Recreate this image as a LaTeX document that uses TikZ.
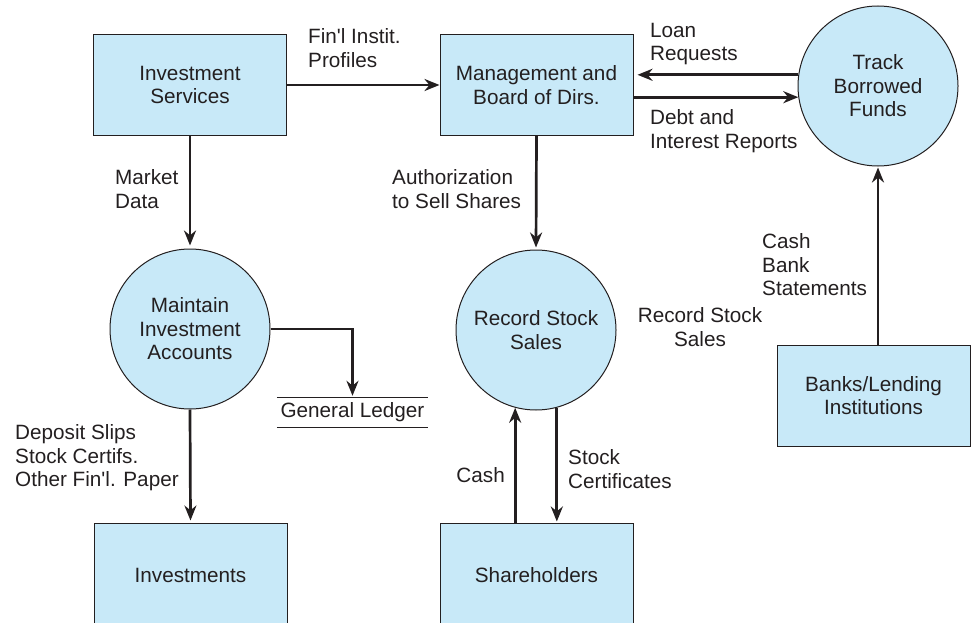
\documentclass[tikz,border=0pt]{standalone}
\usepackage{fontspec}
\setmainfont{Liberation Sans}
\usepackage{xcolor}
\usetikzlibrary{arrows.meta,positioning,calc}
\definecolor{dfdfill}{RGB}{200,233,248}
\definecolor{dfdink}{RGB}{35,31,32}
\tikzset{
  entity/.style={draw=dfdink, line width=1pt, fill=dfdfill, minimum width=193pt, minimum height=101pt, align=center, inner sep=0pt},
  process/.style={circle, draw=dfdink, line width=1pt, fill=dfdfill, minimum size=160pt, align=center, inner sep=0pt},
  flow/.style={draw=dfdink, line width=2.7pt, ->},
  lbl/.style={align=left, inner sep=0pt},
}

\begin{document}
\begin{tikzpicture}[x=1pt, y=-1pt, >={Stealth[length=15pt,width=12pt]}, font=\fontsize{20.7}{23.5}\selectfont, text=dfdink]
    \useasboundingbox (0,0) rectangle (971,623);
    % external entities
    \node[entity] (invsrv) at (190,85) {Investment\\Services};
    \node[entity] (mgmt) at (536.5,85) {Management and\\Board of Dirs.};
    \node[entity] (banks) at (873.5,395.5) {Banks/Lending\\Institutions};
    \node[entity, minimum height=104pt] (invest) at (190.5,575) {Investments};
    \node[entity, minimum height=104pt] (share) at (536.5,575) {Shareholders};
    % processes
    \node[process] (track) at (878,86) {Track\\Borrowed\\Funds};
    \node[process] (maint) at (190,329) {Maintain\\Investment\\Accounts};
    \node[process] (record) at (536,330) {Record Stock\\Sales};
    % data store
    \node[minimum width=151pt, minimum height=29pt, inner sep=0pt] (ledger) at (352.5,412.5) {General Ledger};
    \draw[dfdink, line width=1pt] (ledger.north west) -- (ledger.north east)
        (ledger.south west) -- (ledger.south east);
    % flows
    \draw[flow] (invsrv.east) -- (mgmt.west);
    \draw[flow, shorten >=4pt] (track.172) -- (track.172 -| mgmt.east);
    \draw[flow] (mgmt.east |- track.188) -- (track.188);
    \draw[flow, shorten >=3pt] (invsrv.south) -- (maint.north);
    \draw[flow, shorten >=2pt] (mgmt.south) -- (record.north);
    \draw[flow, shorten >=2pt] (maint.east) -| (ledger.north);
    \draw[flow, shorten >=2pt] (maint.south) -- (invest.north);
    \draw[flow] (record.255 |- share.north) -- (record.255);
    \draw[flow, shorten >=1pt] (record.285) -- (record.285 |- share.north);
    \draw[flow, shorten >=1pt] (track.south |- banks.north) -- (track.south);
    % flow labels
    \node[lbl, anchor=west] (lblprof) at (308,48) {Fin\textquotesingle l Instit.\\Profiles};
    \node[lbl, anchor=west] (lblloan) at (650,44) {Loan\\Requests};
    \node[lbl, anchor=west] (lbldebt) at (650,131) {Debt and\\Interest Reports};
    \node[lbl, anchor=west] (lblmarket) at (115,189) {Market\\Data};
    \node[lbl, anchor=west] (lblauth) at (392,189) {Authorization\\to Sell Shares};
    \node[lbl, anchor=west] (lblbank) at (762,265) {Cash\\Bank\\Statements};
    \node[lbl, align=center] (lblrecord) at (700,327) {Record Stock\\Sales};
    \node[lbl, anchor=west] (lbldeposit) at (15,458) {Deposit Slips\\Stock Certifs.\\Other Fin\textquotesingle l. Paper};
    \node[lbl, anchor=east] (lblcash) at (505,475) {Cash};
    \node[lbl, anchor=west] (lblcert) at (568,469) {Stock\\Certificates};
\end{tikzpicture}
\end{document}
